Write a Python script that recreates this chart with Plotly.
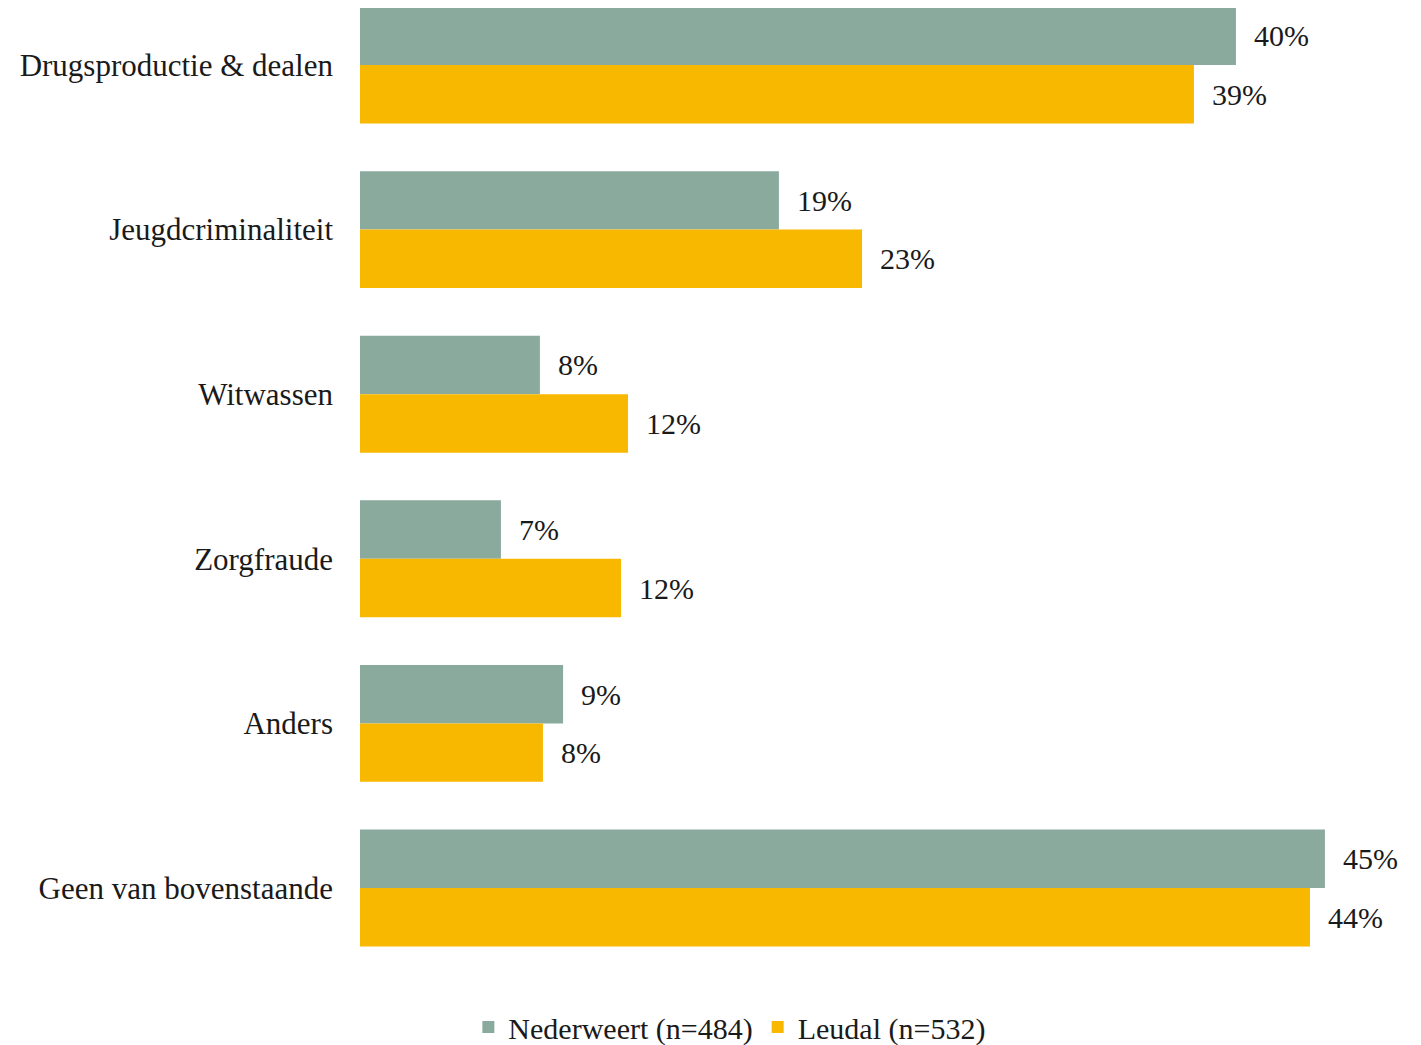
import plotly.graph_objects as go

categories = ["Drugsproductie & dealen", "Jeugdcriminaliteit", "Witwassen",
              "Zorgfraude", "Anders", "Geen van bovenstaande"]
nederweert = [40.46, 19.35, 8.31, 6.51, 9.38, 44.57]
leudal = [38.52, 23.19, 12.38, 12.06, 8.45, 43.88]
series_names = ["Nederweert (n=484)", "Leudal (n=532)"]

FONT = "Liberation Serif"
GREEN = "#8AAA9E"
YELLOW = "#F9B800"
PAD = "\u00a0" * 2


def labels(vals):
    return [f"{PAD}{round(v)}%" for v in vals]


fig = go.Figure()
for name, vals, color in [(series_names[0], nederweert, GREEN), (series_names[1], leudal, YELLOW)]:
    fig.add_trace(go.Bar(
        y=categories, x=vals, name=name, orientation="h",
        marker=dict(color=color, line=dict(width=0)),
        text=labels(vals), textposition="outside", cliponaxis=False,
        textfont=dict(family=FONT, size=30, color="#1a1a1a"),
    ))

fig.update_layout(
    width=1421, height=1045,
    barmode="group", bargap=0.29, bargroupgap=0,
    plot_bgcolor="white", paper_bgcolor="white",
    font=dict(family=FONT, size=31, color="#1a1a1a"),
    margin=dict(l=352, r=19, t=0, b=85, autoexpand=False),
    legend=dict(orientation="h", xref="container", yref="container",
                x=0.508, xanchor="center", y=0.0, yanchor="bottom",
                font=dict(family=FONT, size=30), traceorder="normal",
                itemwidth=30),
    showlegend=True,
)
fig.update_xaxes(range=[0, 48.5], showgrid=False, showticklabels=False,
                 zeroline=False, showline=False, automargin=False)
fig.update_yaxes(categoryorder="array", categoryarray=categories,
                 range=[5.486, -0.3463], showgrid=False, showline=False,
                 ticks="", ticklabelstandoff=26, automargin=False,
                 tickfont=dict(family=FONT, size=31, color="#1a1a1a"))

fig.write_html("out.html")
